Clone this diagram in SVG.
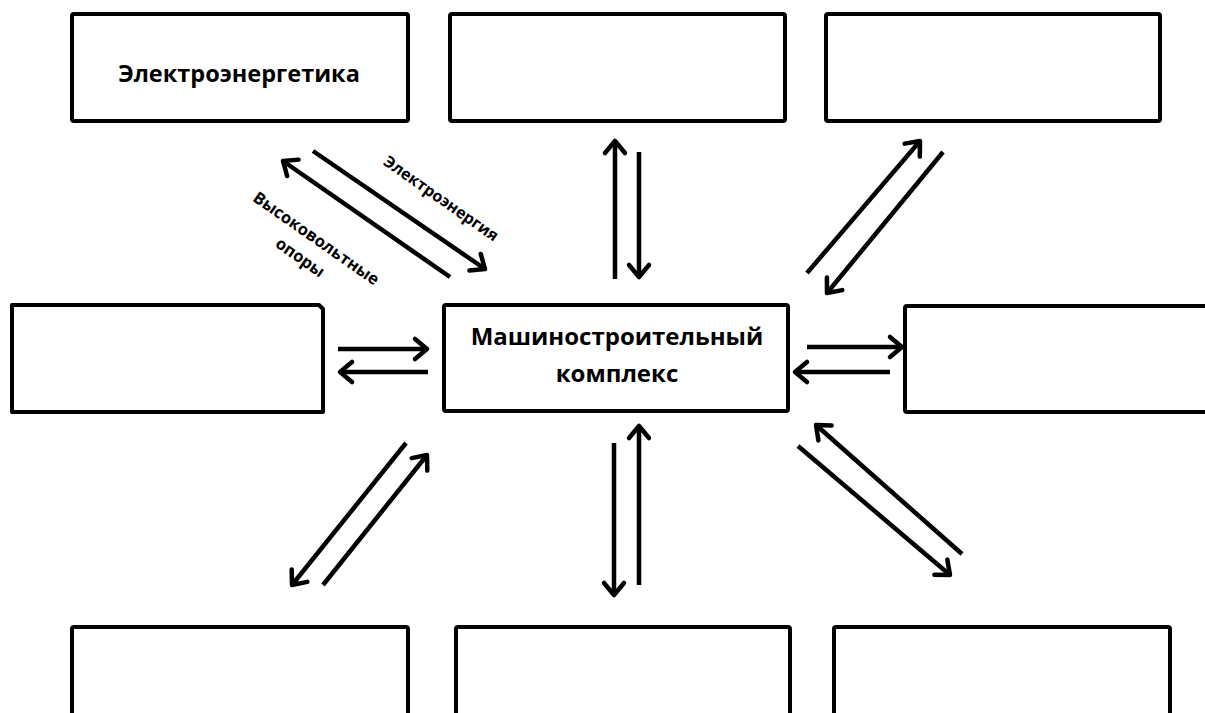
<svg xmlns="http://www.w3.org/2000/svg" width="1205" height="713" viewBox="0 0 1205 713">
<style>
.box{fill:#fff;stroke:#000;stroke-width:4;stroke-linejoin:round}
.lbl{font-family:"Open Sans","Liberation Sans",sans-serif;font-weight:bold;fill:#000;text-anchor:middle}
.arr{stroke:#000;stroke-width:4.5;fill:none;marker-end:url(#ah)}
</style>
<defs>
<marker id="ah" markerUnits="userSpaceOnUse" markerWidth="30" markerHeight="30" refX="0" refY="0" viewBox="-16 -15 20 30" orient="auto">
<path d="M-12,-10 L0,0 L-12,10" fill="none" stroke="#000" stroke-width="4.5" stroke-linecap="round" stroke-linejoin="round"/>
</marker>
</defs>
<rect width="1205" height="713" fill="#fff"/>
<g id="n-electro"><rect class="box" x="72" y="14" width="336" height="107" rx="2"/><text class="lbl" x="239" y="82" font-size="23.5">Электроэнергетика</text></g>
<g id="n-top-mid"><rect class="box" x="450" y="14" width="335" height="107" rx="2"/></g>
<g id="n-top-right"><rect class="box" x="826" y="14" width="334" height="107" rx="2"/></g>
<g id="n-left"><path class="box" d="M12,305 H319 L323,309 V412 H12 Z"/></g>
<g id="n-center"><rect class="box" x="444" y="305" width="344" height="106" rx="2"/><text class="lbl" x="617" y="345" font-size="24">Машиностроительный</text><text class="lbl" x="617" y="382" font-size="24">комплекс</text></g>
<g id="n-right"><rect class="box" x="905" y="306" width="320" height="106" rx="2"/></g>
<g id="n-bot-left"><rect class="box" x="72" y="627" width="336" height="100" rx="2"/></g>
<g id="n-bot-mid"><rect class="box" x="456" y="627" width="334" height="100" rx="2"/></g>
<g id="n-bot-right"><rect class="box" x="834" y="627" width="336" height="100" rx="2"/></g>
<g id="connectors">
<line class="arr" x1="450" y1="277" x2="283" y2="161"/>
<line class="arr" x1="313" y1="151" x2="485" y2="269"/>
<line class="arr" x1="615" y1="279" x2="615" y2="141"/>
<line class="arr" x1="639" y1="152" x2="639" y2="277"/>
<line class="arr" x1="807" y1="273" x2="920" y2="141"/>
<line class="arr" x1="943" y1="152" x2="827" y2="293"/>
<line class="arr" x1="338" y1="349" x2="427" y2="349"/>
<line class="arr" x1="428" y1="372" x2="340" y2="372"/>
<line class="arr" x1="807" y1="347" x2="902" y2="347"/>
<line class="arr" x1="890" y1="372" x2="795" y2="372"/>
<line class="arr" x1="406" y1="443" x2="292" y2="585"/>
<line class="arr" x1="323" y1="585" x2="427" y2="455"/>
<line class="arr" x1="614" y1="443" x2="614" y2="595"/>
<line class="arr" x1="639" y1="585" x2="639" y2="426"/>
<line class="arr" x1="962" y1="554" x2="816" y2="425"/>
<line class="arr" x1="798" y1="446" x2="950" y2="575"/>
</g>
<g id="edge-labels">
<text class="lbl" font-size="16" transform="translate(438,203) rotate(35)">Электроэнергия</text>
<text class="lbl" font-size="16.5" transform="translate(313,243) rotate(35)">Высоковольтные</text>
<text class="lbl" font-size="16.5" transform="translate(297,262) rotate(35)">опоры</text>
</g>
</svg>
